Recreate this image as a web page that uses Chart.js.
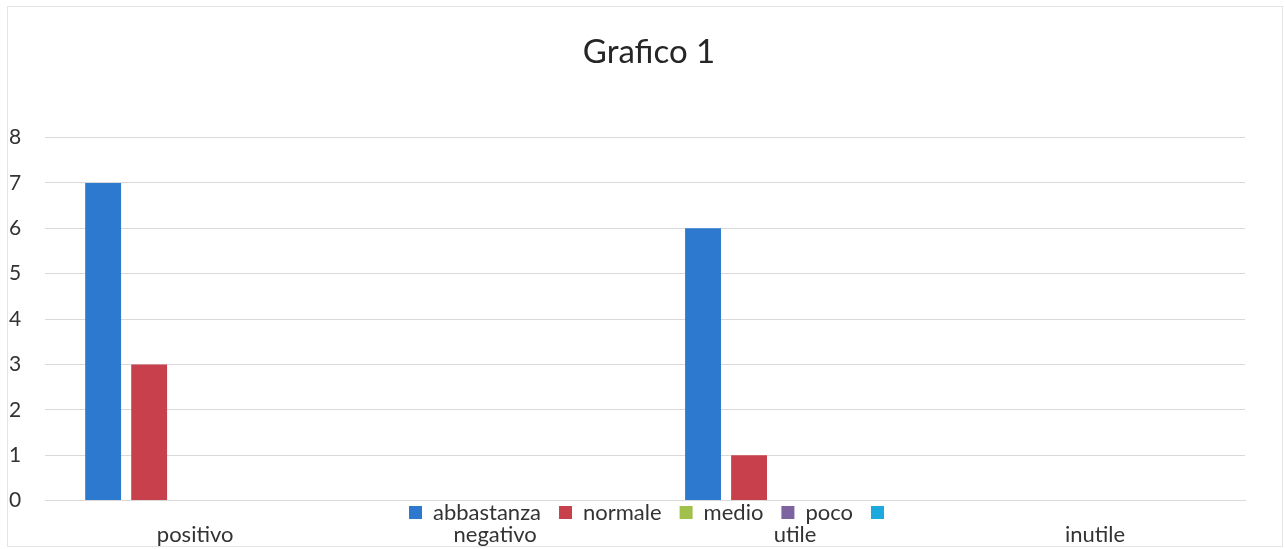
<!DOCTYPE html>
<html>
<head>
<meta charset="utf-8">
<script src="https://cdn.jsdelivr.net/npm/chart.js@4"></script>
<style>
  html, body { margin: 0; padding: 0; background: #fff; }
  #wrap { position: relative; width: 1285px; height: 549px; }
  #frame { position: absolute; left: 7px; top: 6px; right: 2px; bottom: 2px; border: 1px solid #e4e4e4; pointer-events: none; }
</style>
</head>
<body>
<div id="wrap">
  <canvas id="grafico" width="1285" height="549"></canvas>
  <div id="frame"></div>
</div>
<script>
// categories and series
var categorie = ['positivo', 'negativo', 'utile', 'inutile'];
var abbastanza = [7, null, 6, null];
var normale = [3, null, 1, null];
var medio = [null, null, null, null];
var poco = [null, null, null, null];
var senzaNome = [null, null, null, null];
var yTicks = [0, 1, 2, 3, 4, 5, 6, 7, 8];

var font = 'Lato, "Open Sans", sans-serif';

// legend overlaps the axis labels in the original, so move it down after layout
// title and legend are centred on the whole frame, not on the padded area
var legendDown = {
  id: 'legendDown',
  afterLayout: function (chart) {
    var lg = chart.legend;
    var h = lg.bottom - lg.top;
    var top = chart.chartArea.bottom - 17;
    lg.top = top;
    lg.bottom = top + h;
    lg.left += 25;
    lg.right += 25;
    chart.titleBlock.left += 22;
    chart.titleBlock.right += 22;
  }
};

function serie(label, data, color) {
  return {
    label: label,
    data: data,
    backgroundColor: color,
    borderColor: color,
    borderWidth: 0,
    categoryPercentage: 0.767,
    barPercentage: 0.78
  };
}

var ctx = document.getElementById('grafico').getContext('2d');
var chart = new Chart(ctx, {
  type: 'bar',
  data: {
    labels: categorie,
    datasets: [
      serie('abbastanza', abbastanza, '#2d79cf'),
      serie('normale', normale, '#c9404d'),
      serie('medio', medio, '#a2c04c'),
      serie('poco', poco, '#7d63a0'),
      serie('', senzaNome, '#1ba9de')
    ]
  },
  options: {
    responsive: false,
    devicePixelRatio: 1,
    animation: false,
    layout: { padding: { left: 9, right: 40, top: 14, bottom: -20 } },
    plugins: {
      title: {
        display: true,
        text: 'Grafico 1',
        color: '#262626',
        font: { family: font, size: 33, weight: 'normal' },
        padding: { top: 19, bottom: 15 }
      },
      legend: {
        display: true,
        position: 'top',
        labels: {
          color: '#333',
          font: { family: font, size: 22 },
          boxWidth: 13,
          boxHeight: 13,
          padding: 18
        }
      },
      tooltip: { enabled: false }
    },
    scales: {
      x: {
        grid: { display: false, drawTicks: false },
        border: { color: '#d9d9d9' },
        ticks: { color: '#333', font: { family: font, size: 22 }, padding: 21 }
      },
      y: {
        min: 0,
        max: 8,
        afterBuildTicks: function (axis) {
          axis.ticks = yTicks.map(function (v) { return { value: v }; });
        },
        grid: { color: '#d9d9d9', drawTicks: false },
        border: { display: false },
        ticks: { color: '#333', font: { family: font, size: 21 }, padding: 12, crossAlign: 'far' }
      }
    }
  },
  plugins: [legendDown]
});
</script>
</body>
</html>
